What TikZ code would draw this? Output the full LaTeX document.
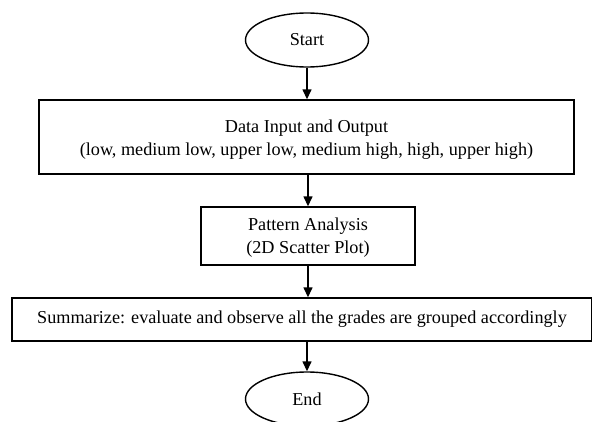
\documentclass[tikz,border=0pt]{standalone}
\usepackage{fontspec}
\setmainfont{Liberation Serif}
\usetikzlibrary{shapes.geometric,arrows.meta}
\begin{document}
\begin{tikzpicture}[x=1pt,y=-1pt,
  every node/.style={font=\fontsize{18.2}{23}\selectfont, line width=1.4pt, inner sep=0pt},
  term/.style={draw, ellipse, minimum width=123pt, minimum height=54pt},
  procbox/.style={draw, rectangle, align=center},
  conn/.style={line width=1.4pt, -{Triangle[length=10pt,width=9pt]}}]
\useasboundingbox (0,0) rectangle (592,421);
\node[term] (start) at (307,40) {Start};
\node[procbox, minimum width=535pt, minimum height=74pt] (inout) at (306.5,137)
  {\rule{0pt}{18pt}Data Input and Output\\(low, medium low, upper low, medium high, high, upper high)};
\node[procbox, minimum width=214pt, minimum height=58pt] (pattern) at (308,236)
  {\rule{0pt}{16pt}Pattern Analysis\\(2D Scatter Plot)};
\node[procbox, minimum width=580pt, minimum height=43pt] (summ) at (302,319.5)
  {Summarize: evaluate and observe all the grades are grouped accordingly};
\node[term] (end) at (307,399) {End};
\draw[conn] (start.south) -- (start.south |- inout.north);
\draw[conn] (inout.south -| pattern.north) -- (pattern.north);
\draw[conn] (pattern.south) -- (pattern.south |- summ.north);
\draw[conn] (summ.south -| end.north) -- (end.north);
\end{tikzpicture}
\end{document}
